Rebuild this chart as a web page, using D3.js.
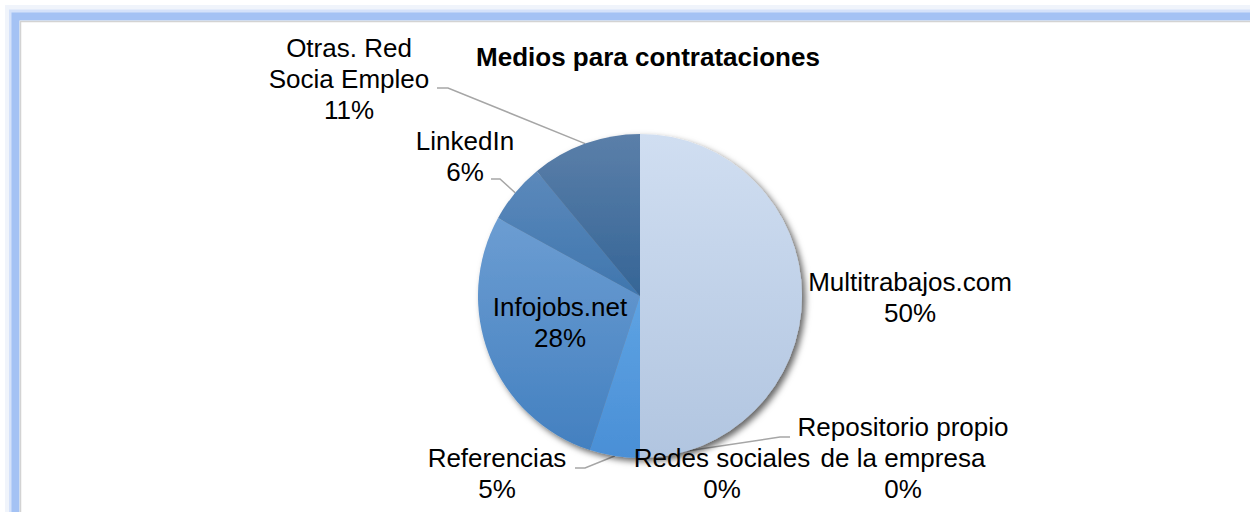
<!DOCTYPE html>
<html>
<head>
<meta charset="utf-8">
<script src="https://cdn.jsdelivr.net/npm/d3@7"></script>
<style>
  html, body { margin: 0; padding: 0; background: #fff; }
  svg { display: block; font-family: "Liberation Sans", Arial, sans-serif; }
</style>
</head>
<body>
<div class="chart"></div>
<script>
// chart data
const title = "Medios para contrataciones"
const categories = [
  "Multitrabajos.com",
  "Repositorio propio\nde la empresa",
  "Redes sociales",
  "Referencias",
  "Infojobs.net",
  "LinkedIn",
  "Otras. Red\nSocia Empleo",
]
const shares = [0.5, 0, 0, 0.05, 0.28, 0.06, 0.11]

// gradient colours per slice (top, bottom)
const colorsTop = ["#d0def1", "#9dbbe0", "#9dbbe0", "#5ea3e3", "#6c9dd2", "#5c89bb", "#5b7fa9"]
const colorsBottom = ["#b1c5e0", "#7fa5d5", "#7fa5d5", "#4a8fd6", "#4380c0", "#3f76ae", "#356596"]

document.addEventListener("DOMContentLoaded", () => {
  const width = 1250
  const height = 512
  const cx = 640
  const cy = 296
  const radius = 162
  const fontSize = 26
  const lineH = 31

  // where each data label sits (center x, first baseline) and its leader line
  const labelPos = [
    { x: 910, y: 291 },
    { x: 903, y: 436, leader: [[790, 437], [780, 437]] },
    { x: 722, y: 467 },
    { x: 497, y: 467, leader: [[575, 468], [585, 468]] },
    { x: 560, y: 316 },
    { x: 465, y: 150, leader: [[491, 179], [500, 179]] },
    { x: 349, y: 57, leader: [[437, 88], [448, 88]] },
  ]

  const data = categories.map((c, i) => ({ name: c, value: shares[i], i }))

  const svg = d3
    .select(".chart")
    .append("svg")
    .attr("width", width)
    .attr("height", height)
    .attr("viewBox", [0, 0, width, height])

  const defs = svg.append("defs")

  // soft shadow under the pie
  const shadow = defs.append("filter").attr("id", "shadow")
    .attr("x", "-10%").attr("y", "-10%").attr("width", "125%").attr("height", "125%")
  shadow.append("feDropShadow")
    .attr("dx", 3.5).attr("dy", 3.5).attr("stdDeviation", 3)
    .attr("flood-color", "#000").attr("flood-opacity", 0.6)

  data.forEach((d) => {
    const g = defs.append("linearGradient").attr("id", `grad${d.i}`)
      .attr("x1", 0).attr("y1", 0).attr("x2", 0).attr("y2", 1)
    g.append("stop").attr("offset", "0%").attr("stop-color", colorsTop[d.i])
    g.append("stop").attr("offset", "100%").attr("stop-color", colorsBottom[d.i])
  })

  // frame with blue glow (runs off the right and bottom edges)
  const frame = svg.append("g").attr("fill", "none")
  frame.append("rect").attr("x", 8).attr("y", 8).attr("width", 1400).attr("height", 700)
    .attr("stroke", "#f0f4fb").attr("stroke-width", 6)
  frame.append("rect").attr("x", 11).attr("y", 11.5).attr("width", 1400).attr("height", 700)
    .attr("stroke", "#d5e2fa").attr("stroke-width", 4)
  frame.append("rect").attr("x", 15.5).attr("y", 16.5).attr("width", 1400).attr("height", 700)
    .attr("stroke", "#a4c2f4").attr("stroke-width", 8)
  frame.append("rect").attr("x", 20.5).attr("y", 21.5).attr("width", 1400).attr("height", 700)
    .attr("stroke", "#d3d3d3").attr("stroke-width", 1.5)

  // title
  svg.append("text")
    .attr("x", 648)
    .attr("y", 66)
    .attr("text-anchor", "middle")
    .attr("font-size", `${fontSize}px`)
    .attr("font-weight", "bold")
    .attr("fill", "#000")
    .text(title)

  const pie = d3.pie().sort(null).value((d) => d.value)
  const arcs = pie(data)
  const arc = d3.arc().innerRadius(0).outerRadius(radius)

  // leader lines
  const lineGen = d3.line()
  const leaderG = svg.append("g")
    .attr("fill", "none")
    .attr("stroke", "#a6a6a6")
    .attr("stroke-width", 1.5)
  arcs.forEach((a) => {
    const pos = labelPos[a.data.i]
    if (!pos.leader) return
    const mid = (a.startAngle + a.endAngle) / 2
    const end = [cx + radius * Math.sin(mid), cy - radius * Math.cos(mid)]
    leaderG.append("path").attr("d", lineGen([...pos.leader, end]))
  })

  // slices
  svg.append("g")
    .attr("transform", `translate(${cx},${cy})`)
    .attr("filter", "url(#shadow)")
    .selectAll("path")
    .data(arcs.filter((a) => a.data.value > 0))
    .join("path")
    .attr("d", arc)
    .attr("fill", (a) => `url(#grad${a.data.i})`)

  // data labels
  const fmt = d3.format(".0%")
  const labels = svg.append("g")
    .attr("font-size", `${fontSize}px`)
    .attr("fill", "#000")
    .attr("text-anchor", "middle")
  data.forEach((d) => {
    const pos = labelPos[d.i]
    const lines = d.name.split("\n").concat(fmt(d.value))
    const t = labels.append("text").attr("x", pos.x).attr("y", pos.y)
    lines.forEach((l, k) => {
      t.append("tspan").attr("x", pos.x).attr("dy", k === 0 ? 0 : lineH).text(l)
    })
  })
})
</script>
</body>
</html>
